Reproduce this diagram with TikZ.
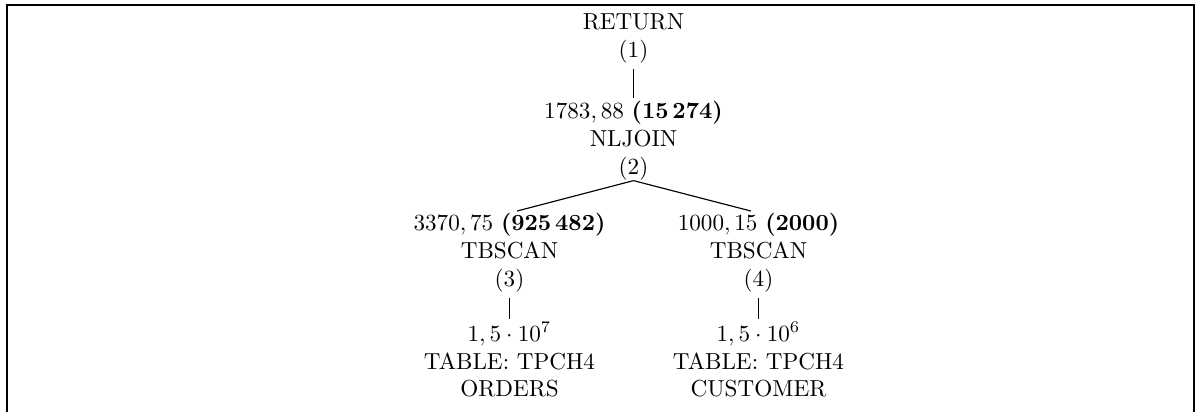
\documentclass[tikz,border=0pt]{standalone}
\begin{document}
\begin{tikzpicture}[x=0.432pt,y=-0.432pt,
  op/.style={align=center,inner sep=0pt,anchor=north,font=\normalsize},
  edge/.style={line width=0.5pt,shorten <=2.4pt,shorten >=1.3pt},
  frame/.style={line width=0.85pt}]
\useasboundingbox (0,0) rectangle (1195,412);
% open frame around the plan
\draw[frame] (7,412) -- (7,5) -- (1194,5) -- (1194,412);
% plan operators
\node[op] (ret) at (633.5,13) {RETURN\\(1)};
\node[op] (nl) at (633.5,101) {$1783,88$ \textbf{(15\,274)}\\NLJOIN\\(2)};
\node[op] (tl) at (509.5,213) {$3370,75$ \textbf{(925\,482)}\\TBSCAN\\(3)};
\node[op] (tr) at (758.5,213) {$1000,15$ \textbf{(2000)}\\TBSCAN\\(4)};
\node[op] (bl) at (509.5,322) {$1,5\cdot 10^7$\\TABLE: TPCH4\\ORDERS};
\node[op] (br) at (758.5,322) {$1,5\cdot 10^6$\\TABLE: TPCH4\\CUSTOMER};
% connectors
\draw[edge] (ret.south) -- (nl.north);
\draw[edge,shorten <=0pt,shorten >=3.4pt] (nl.south) -- (tl.north);
\draw[edge,shorten <=0pt,shorten >=3.4pt] (nl.south) -- (tr.north);
\draw[edge] (tl.south) -- (bl.north);
\draw[edge] (tr.south) -- (br.north);
\end{tikzpicture}
\end{document}
